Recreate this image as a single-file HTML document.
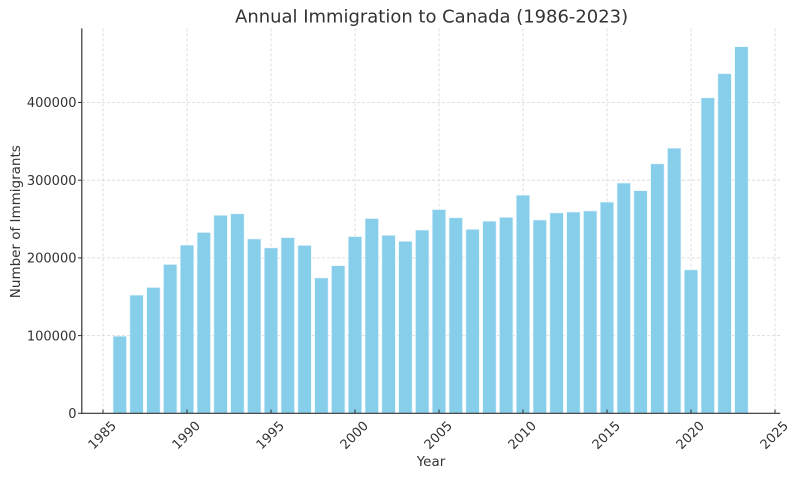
<!DOCTYPE html>
<html>
<head>
<meta charset="utf-8">
<style>
html,body{margin:0;padding:0;background:#fff;}
svg{display:block;}
text{font-family:"DejaVu Sans","Liberation Sans",sans-serif;fill:#333;}
</style>
</head>
<body>
<svg width="800" height="477" viewBox="0 0 800 477" xmlns="http://www.w3.org/2000/svg">
<rect x="0" y="0" width="800" height="477" fill="#fff"/>
<!-- grid -->
<g stroke="#d6d6d6" stroke-width="0.8" stroke-dasharray="3,2" fill="none">
  <line x1="82" y1="335.6" x2="780" y2="335.6"/>
  <line x1="82" y1="257.9" x2="780" y2="257.9"/>
  <line x1="82" y1="180.2" x2="780" y2="180.2"/>
  <line x1="82" y1="102.5" x2="780" y2="102.5"/>
  <line x1="103" y1="28.4" x2="103" y2="413.3"/>
  <line x1="187" y1="28.4" x2="187" y2="413.3"/>
  <line x1="271" y1="28.4" x2="271" y2="413.3"/>
  <line x1="355" y1="28.4" x2="355" y2="413.3"/>
  <line x1="439" y1="28.4" x2="439" y2="413.3"/>
  <line x1="523" y1="28.4" x2="523" y2="413.3"/>
  <line x1="607" y1="28.4" x2="607" y2="413.3"/>
  <line x1="691" y1="28.4" x2="691" y2="413.3"/>
  <line x1="775" y1="28.4" x2="775" y2="413.3"/>
</g>
<!-- bars -->
<g fill="#87CEEB" stroke="#e8f6fb" stroke-width="0.6">
<rect x="113.08" y="336.21" width="13.44" height="77.09"/>
<rect x="129.88" y="295.12" width="13.44" height="118.18"/>
<rect x="146.68" y="287.48" width="13.44" height="125.82"/>
<rect x="163.48" y="264.46" width="13.44" height="148.84"/>
<rect x="180.28" y="245.12" width="13.44" height="168.18"/>
<rect x="197.08" y="232.46" width="13.44" height="180.84"/>
<rect x="213.88" y="215.31" width="13.44" height="197.99"/>
<rect x="230.68" y="213.81" width="13.44" height="199.49"/>
<rect x="247.48" y="238.97" width="13.44" height="174.33"/>
<rect x="264.28" y="247.91" width="13.44" height="165.39"/>
<rect x="281.08" y="237.67" width="13.44" height="175.63"/>
<rect x="297.88" y="245.44" width="13.44" height="167.86"/>
<rect x="314.68" y="277.95" width="13.44" height="135.35"/>
<rect x="331.48" y="265.71" width="13.44" height="147.59"/>
<rect x="348.28" y="236.56" width="13.44" height="176.74"/>
<rect x="365.08" y="218.56" width="13.44" height="194.74"/>
<rect x="381.88" y="235.33" width="13.44" height="177.97"/>
<rect x="398.68" y="241.31" width="13.44" height="171.99"/>
<rect x="415.48" y="230.07" width="13.44" height="183.23"/>
<rect x="432.28" y="209.54" width="13.44" height="203.76"/>
<rect x="449.08" y="217.78" width="13.44" height="195.52"/>
<rect x="465.88" y="229.34" width="13.44" height="183.96"/>
<rect x="482.68" y="221.19" width="13.44" height="192.11"/>
<rect x="499.48" y="217.36" width="13.44" height="195.94"/>
<rect x="516.28" y="195.20" width="13.44" height="218.10"/>
<rect x="533.08" y="220.02" width="13.44" height="193.28"/>
<rect x="549.88" y="212.91" width="13.44" height="200.39"/>
<rect x="566.68" y="212.04" width="13.44" height="201.26"/>
<rect x="583.48" y="210.97" width="13.44" height="202.33"/>
<rect x="600.28" y="202.08" width="13.44" height="211.22"/>
<rect x="617.08" y="183.04" width="13.44" height="230.26"/>
<rect x="633.88" y="190.71" width="13.44" height="222.59"/>
<rect x="650.68" y="163.86" width="13.44" height="249.44"/>
<rect x="667.48" y="148.20" width="13.44" height="265.10"/>
<rect x="684.28" y="269.86" width="13.44" height="143.44"/>
<rect x="701.08" y="97.84" width="13.44" height="315.46"/>
<rect x="717.88" y="73.61" width="13.44" height="339.69"/>
<rect x="734.68" y="46.71" width="13.44" height="366.59"/>
</g>
<!-- spines -->
<g stroke="#333" stroke-width="1.2" fill="none">
  <line x1="81.8" y1="28.4" x2="81.8" y2="413.9"/>
  <line x1="81.2" y1="413.3" x2="780.2" y2="413.3"/>
</g>
<!-- ticks -->
<g stroke="#333" stroke-width="1" fill="none">
  <line x1="78" y1="413.3" x2="81.8" y2="413.3"/>
  <line x1="78" y1="335.6" x2="81.8" y2="335.6"/>
  <line x1="78" y1="257.9" x2="81.8" y2="257.9"/>
  <line x1="78" y1="180.2" x2="81.8" y2="180.2"/>
  <line x1="78" y1="102.5" x2="81.8" y2="102.5"/>
  <line x1="103" y1="409.5" x2="103" y2="413.3"/>
  <line x1="187" y1="409.5" x2="187" y2="413.3"/>
  <line x1="271" y1="409.5" x2="271" y2="413.3"/>
  <line x1="355" y1="409.5" x2="355" y2="413.3"/>
  <line x1="439" y1="409.5" x2="439" y2="413.3"/>
  <line x1="523" y1="409.5" x2="523" y2="413.3"/>
  <line x1="607" y1="409.5" x2="607" y2="413.3"/>
  <line x1="691" y1="409.5" x2="691" y2="413.3"/>
  <line x1="775" y1="409.5" x2="775" y2="413.3"/>
</g>
<!-- y tick labels -->
<g font-size="13" text-anchor="end">
  <text x="76.5" y="418">0</text>
  <text x="76.5" y="340.3">100000</text>
  <text x="76.5" y="262.6">200000</text>
  <text x="76.5" y="184.9">300000</text>
  <text x="76.5" y="107.2">400000</text>
</g>
<!-- x tick labels -->
<g font-size="13" text-anchor="middle">
  <text x="0" y="0" dy="4.6" transform="translate(102,435) rotate(-45)">1985</text>
  <text x="0" y="0" dy="4.6" transform="translate(186,435) rotate(-45)">1990</text>
  <text x="0" y="0" dy="4.6" transform="translate(270,435) rotate(-45)">1995</text>
  <text x="0" y="0" dy="4.6" transform="translate(354,435) rotate(-45)">2000</text>
  <text x="0" y="0" dy="4.6" transform="translate(438,435) rotate(-45)">2005</text>
  <text x="0" y="0" dy="4.6" transform="translate(522,435) rotate(-45)">2010</text>
  <text x="0" y="0" dy="4.6" transform="translate(606,435) rotate(-45)">2015</text>
  <text x="0" y="0" dy="4.6" transform="translate(690,435) rotate(-45)">2020</text>
  <text x="0" y="0" dy="4.6" transform="translate(774,435) rotate(-45)">2025</text>
</g>
<!-- axis labels -->
<text x="431" y="466" font-size="13.5" text-anchor="middle" textLength="28.5" lengthAdjust="spacingAndGlyphs">Year</text>
<text x="0" y="0" font-size="13.5" text-anchor="middle" textLength="153" lengthAdjust="spacingAndGlyphs" transform="translate(20,221.7) rotate(-90)">Number of Immigrants</text>
<!-- title -->
<text x="431.6" y="22.7" font-size="18" text-anchor="middle" textLength="393" lengthAdjust="spacingAndGlyphs">Annual Immigration to Canada (1986-2023)</text>
</svg>
</body>
</html>
